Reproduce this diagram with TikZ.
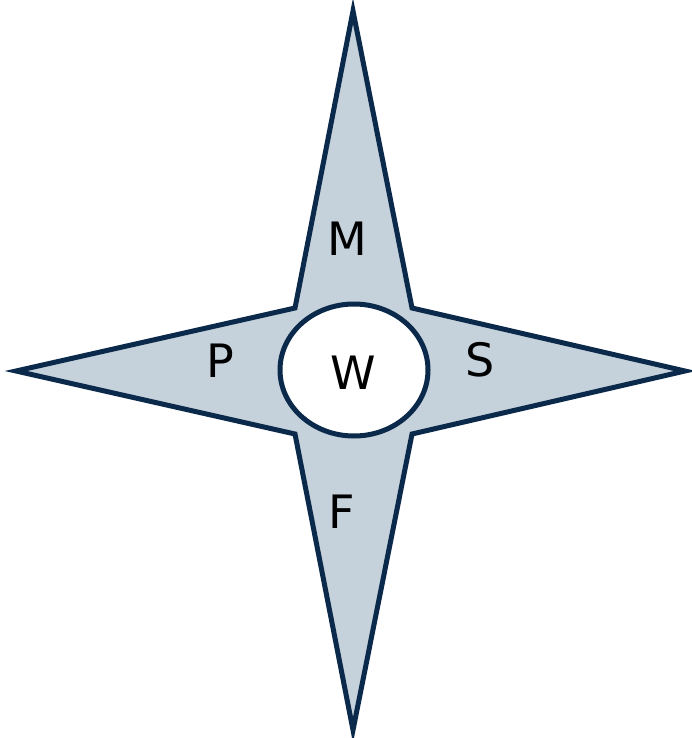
\documentclass[tikz,border=0pt]{standalone}
\usepackage{fontspec}
\setmainfont{DejaVu Sans}
\definecolor{starfill}{HTML}{C5D1DB}
\definecolor{starline}{HTML}{0B2A4B}
\begin{document}
\begin{tikzpicture}[x=1pt,y=-1pt,
  lbl/.style={font=\fontsize{46}{50}\selectfont, text=black, inner sep=0pt}]
\useasboundingbox (0,0) rectangle (691,738);
\coordinate (tt) at (353,11);
\coordinate (tr) at (412,308);
\coordinate (rt) at (685,371);
\coordinate (br) at (412,434);
\coordinate (bt) at (353,730);
\coordinate (bl) at (295,434);
\coordinate (lt) at (16,371);
\coordinate (tl) at (295,308);
\draw[starline, fill=starfill, line width=5pt, line join=miter, miter limit=20]
  (tt) -- (tr) -- (rt) -- (br) -- (bt) -- (bl) -- (lt) -- (tl) -- cycle;
\draw[starline, fill=white, line width=5pt] (354,370) ellipse [x radius=74, y radius=66];
\node[lbl] (M) at (347,239) {M};
\node[lbl] (P) at (220,361) {P};
\node[lbl] (W) at (353,373) {W};
\node[lbl] (S) at (480,360) {S};
\node[lbl] (F) at (342,512) {F};
\end{tikzpicture}
\end{document}
